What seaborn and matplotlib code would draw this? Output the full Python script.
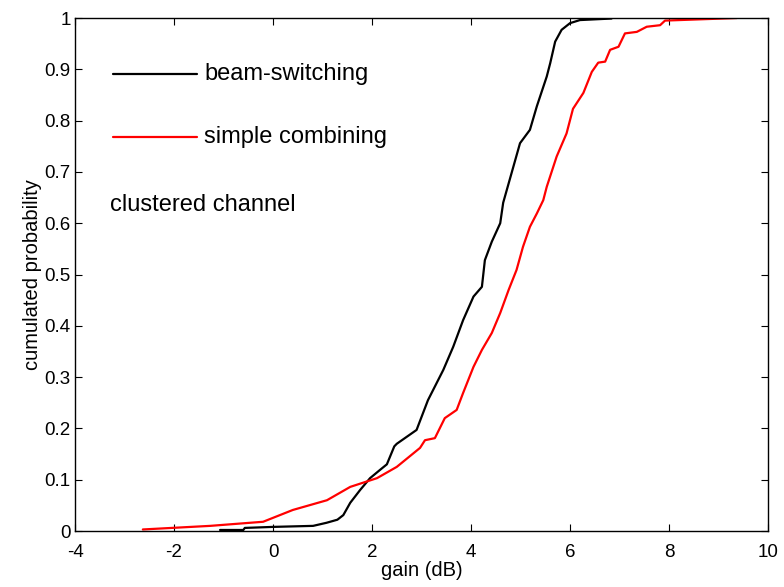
import matplotlib
matplotlib.use("Agg")
import matplotlib.pyplot as plt
import seaborn as sns
import pandas as pd

# beam-switching CDF (gain dB, probability)
bs_x = [-1.07, -0.6, -0.57, 0.0, 0.81, 1.08, 1.3, 1.42, 1.56, 1.76, 1.96, 2.16, 2.3, 2.45, 2.5,
        2.9, 3.13, 3.44, 3.64, 3.84, 4.05, 4.22, 4.28, 4.42, 4.59, 4.65, 4.82, 4.99, 5.19,
        5.33, 5.53, 5.6, 5.7, 5.83, 6.0, 6.2, 6.84]
bs_y = [0.002, 0.002, 0.006, 0.008, 0.01, 0.016, 0.022, 0.031, 0.055, 0.08, 0.103, 0.119, 0.13,
        0.165, 0.17, 0.197, 0.255, 0.314, 0.359, 0.411, 0.457, 0.476, 0.528, 0.564, 0.6, 0.64,
        0.698, 0.756, 0.782, 0.828, 0.886, 0.912, 0.954, 0.977, 0.99, 0.996, 0.999]

# simple combining CDF
sc_x = [-2.63, -1.27, -0.2, 0.4, 1.09, 1.56, 2.1, 2.5, 2.97, 3.07, 3.27, 3.47, 3.71, 3.84, 4.05,
        4.22, 4.42, 4.59, 4.76, 4.92, 5.05, 5.19, 5.33, 5.46, 5.53, 5.73, 5.93, 6.06, 6.27, 6.44,
        6.57, 6.71, 6.81, 6.98, 7.11, 7.35, 7.55, 7.82, 7.92, 9.37]
sc_y = [0.003, 0.01, 0.018, 0.041, 0.06, 0.086, 0.103, 0.125, 0.162, 0.177, 0.181, 0.22, 0.236,
        0.269, 0.32, 0.353, 0.386, 0.425, 0.47, 0.509, 0.554, 0.593, 0.619, 0.645, 0.671, 0.73,
        0.775, 0.823, 0.854, 0.895, 0.913, 0.915, 0.938, 0.944, 0.97, 0.973, 0.983, 0.986, 0.995, 1.0]

x_ticks = [-4, -2, 0, 2, 4, 6, 8, 10]
y_ticks = [0, 0.1, 0.2, 0.3, 0.4, 0.5, 0.6, 0.7, 0.8, 0.9, 1]
y_tick_labels = ["0", "0.1", "0.2", "0.3", "0.4", "0.5", "0.6", "0.7", "0.8", "0.9", "1"]

sns.set_style("white")
plt.rcParams["font.family"] = ["Liberation Sans", "DejaVu Sans"]
plt.rcParams["text.color"] = "black"
plt.rcParams["axes.labelcolor"] = "black"

df = pd.concat([
    pd.DataFrame({"gain": bs_x, "p": bs_y, "s": "beam-switching"}),
    pd.DataFrame({"gain": sc_x, "p": sc_y, "s": "simple combining"}),
])

fig = plt.figure(figsize=(7.84, 5.87), dpi=100)
ax = fig.add_axes([0.0957, 0.0954, 0.9796 - 0.0957, 0.9693 - 0.0954])
sns.lineplot(data=df, x="gain", y="p", hue="s", palette={"beam-switching": "black", "simple combining": "red"},
             sort=False, estimator=None, legend=False, linewidth=1.6, ax=ax)

ax.set_xlim(-4, 10)
ax.set_ylim(0, 1)
ax.set_xticks(x_ticks)
ax.set_xticklabels([str(t) for t in x_ticks])
ax.set_yticks(y_ticks)
ax.set_yticklabels(y_tick_labels)
ax.tick_params(direction="in", length=5, width=0.8, labelsize=13.5, top=True, right=True,
               bottom=True, left=True, colors="black")
ax.tick_params(axis="x", pad=9)
ax.tick_params(axis="y", pad=3)
for s in ax.spines.values():
    s.set_visible(True)
    s.set_color("black")
    s.set_linewidth(1.0)
ax.set_xlabel("gain (dB)", fontsize=14.5, labelpad=0, color="black")
ax.set_ylabel("cumulated probability", fontsize=14.5, labelpad=2, color="black")

# legend-like annotations
ax.plot([-3.23, -1.54], [0.891, 0.891], color="black", lw=1.6)
ax.plot([-3.23, -1.54], [0.768, 0.768], color="red", lw=1.6)
ax.text(-1.39, 0.891, "beam-switching", fontsize=17, va="center", ha="left", color="black")
ax.text(-1.39, 0.768, "simple combining", fontsize=17, va="center", ha="left", color="black")
ax.text(-3.29, 0.635, "clustered channel", fontsize=17, va="center", ha="left", color="black")

fig.savefig("out.png", dpi=100)
